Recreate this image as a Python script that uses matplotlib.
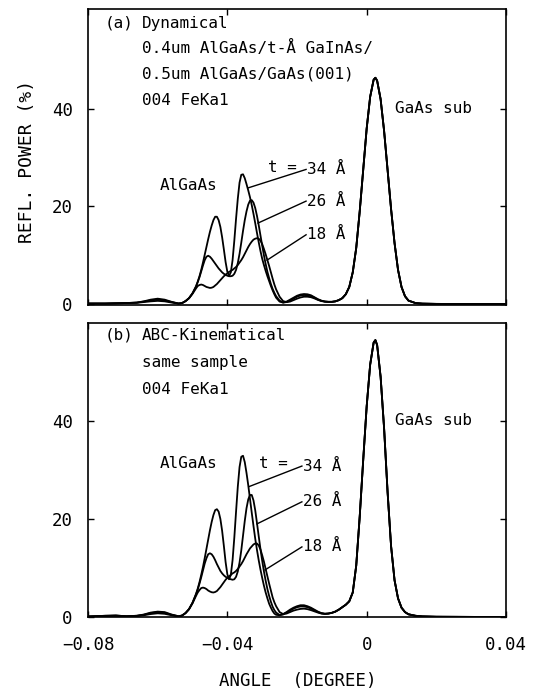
import numpy as np
import matplotlib
matplotlib.use('Agg')
import matplotlib.pyplot as plt

# sample angles (degree); finer steps where the AlGaAs fringes are
angle_tail = [-0.080, -0.075, -0.072, -0.069, -0.066, -0.064, -0.062, -0.060, -0.058, -0.056, -0.054]
angle_layer = [-0.053, -0.052, -0.051, -0.050, -0.049,
               -0.0485, -0.048, -0.0475, -0.047, -0.0465, -0.046, -0.0455, -0.045, -0.0445, -0.044,
               -0.0435, -0.043, -0.0425, -0.042, -0.0415, -0.041, -0.0405, -0.040, -0.0395, -0.039,
               -0.0385, -0.038, -0.0375, -0.037, -0.0365, -0.036, -0.0355, -0.035, -0.0345, -0.034,
               -0.0335, -0.033, -0.0325, -0.032, -0.0315, -0.031, -0.0305, -0.030, -0.0295, -0.029,
               -0.0285, -0.028, -0.0275, -0.027, -0.0265,
               -0.026, -0.025, -0.024, -0.023, -0.022, -0.021, -0.020, -0.019, -0.018, -0.017,
               -0.016, -0.015, -0.014, -0.013]
angle_sub = [-0.012, -0.011, -0.010, -0.009, -0.008, -0.007, -0.006, -0.005, -0.004, -0.003,
             -0.002, -0.001, 0.000, 0.001, 0.002, 0.0025, 0.003, 0.004, 0.005, 0.006,
             0.007, 0.008, 0.009, 0.010, 0.011, 0.012, 0.014, 0.016, 0.020, 0.030, 0.040]

# (a) dynamical, reflected power (%)
dyn_tail_34 = [0.1, 0.1, 0.15, 0.2, 0.3, 0.55, 0.9, 1.1, 0.9, 0.45, 0.1]
dyn_tail_26 = [0.1, 0.1, 0.15, 0.2, 0.3, 0.5, 0.75, 0.9, 0.75, 0.4, 0.1]
dyn_tail_18 = [0.1, 0.1, 0.15, 0.2, 0.25, 0.4, 0.55, 0.65, 0.55, 0.3, 0.1]

dyn_layer_34 = [0.2, 0.6, 1.2, 2.2, 3.6,
                4.6, 5.7, 7.0, 8.5, 10.1, 11.7, 13.3, 14.8, 16.1, 17.2,
                17.9, 17.9, 17.2, 15.8, 13.7, 11.2, 8.6, 6.6, 5.8, 6.5,
                9.0, 13.0, 17.5, 21.6, 24.9, 26.5, 26.6, 25.8, 24.6, 23.3,
                21.9, 20.3, 18.5, 16.6, 14.6, 12.7, 10.9, 9.3, 8.0, 6.8,
                5.7, 4.7, 3.7, 2.8, 2.0,
                1.3, 0.5, 0.3, 0.5, 0.9, 1.3, 1.7, 1.95, 2.05, 2.0,
                1.8, 1.4, 1.0, 0.7]
dyn_layer_26 = [0.2, 0.6, 1.2, 2.2, 3.6,
                4.5, 5.5, 6.7, 7.9, 9.0, 9.7, 9.9, 9.7, 9.3, 8.8,
                8.3, 7.8, 7.3, 6.9, 6.5, 6.2, 6.0, 5.8, 5.7, 5.7,
                5.8, 6.2, 7.0, 8.4, 10.3, 12.6, 15.0, 17.2, 19.0, 20.4,
                21.2, 21.3, 20.8, 19.7, 18.1, 16.2, 14.1, 12.0, 10.0, 8.2,
                6.6, 5.3, 4.1, 3.1, 2.3,
                1.6, 0.7, 0.3, 0.4, 0.7, 1.1, 1.5, 1.75, 1.85, 1.8,
                1.6, 1.3, 0.9, 0.65]
dyn_layer_18 = [0.2, 0.6, 1.2, 2.1, 3.2,
                3.7, 3.9, 4.0, 3.9, 3.7, 3.5, 3.4, 3.3, 3.35, 3.5,
                3.8, 4.1, 4.5, 4.9, 5.3, 5.7, 6.0, 6.3, 6.6, 6.8,
                7.0, 7.3, 7.6, 8.0, 8.5, 9.0, 9.6, 10.3, 11.0, 11.7,
                12.3, 12.8, 13.2, 13.4, 13.5, 13.4, 13.0, 12.3, 11.3, 10.2,
                9.0, 7.8, 6.5, 5.2, 4.0,
                3.0, 1.5, 0.6, 0.4, 0.5, 0.8, 1.1, 1.35, 1.5, 1.5,
                1.4, 1.15, 0.85, 0.6]
dyn_sub = [0.5, 0.45, 0.45, 0.55, 0.8, 1.2, 2.0, 3.5, 6.5, 11.5,
           19.0, 27.5, 36.0, 42.5, 46.0, 46.4, 45.8, 42.0, 35.5, 27.5,
           19.5, 12.5, 7.0, 3.5, 1.6, 0.7, 0.2, 0.08, 0.03, 0.0, 0.0]

# (b) ABC-kinematical
kin_tail_34 = [0.1, 0.25, 0.3, 0.15, 0.25, 0.5, 0.9, 1.1, 1.0, 0.5, 0.15]
kin_tail_26 = [0.1, 0.25, 0.3, 0.15, 0.25, 0.45, 0.8, 1.0, 0.85, 0.45, 0.15]
kin_tail_18 = [0.1, 0.2, 0.25, 0.15, 0.2, 0.35, 0.6, 0.75, 0.65, 0.35, 0.1]

kin_layer_34 = [0.3, 0.8, 1.6, 2.9, 4.7,
                5.8, 7.1, 8.6, 10.2, 12.0, 13.9, 15.8, 17.7, 19.4, 20.8,
                21.8, 22.0, 21.5, 20.0, 17.6, 14.5, 11.2, 8.7, 7.7, 8.6,
                11.6, 16.2, 21.5, 26.6, 30.6, 32.7, 32.9, 31.6, 29.4, 26.9,
                24.1, 21.3, 18.6, 16.0, 13.7, 11.6, 9.7, 8.0, 6.4, 5.0,
                3.8, 2.7, 1.9, 1.2, 0.7,
                0.45, 0.35, 0.6, 1.0, 1.5, 1.9, 2.2, 2.4, 2.4, 2.2,
                1.9, 1.5, 1.1, 0.8]
kin_layer_26 = [0.3, 0.8, 1.6, 2.9, 4.6,
                5.6, 6.8, 8.1, 9.5, 10.9, 12.0, 12.8, 13.0, 12.8, 12.3,
                11.6, 10.8, 10.1, 9.4, 8.9, 8.5, 8.2, 8.0, 7.8, 7.7,
                7.6, 7.7, 8.2, 9.3, 11.1, 13.6, 16.6, 19.6, 22.2, 24.0,
                24.9, 24.9, 23.8, 21.8, 19.2, 16.5, 13.9, 11.5, 9.3, 7.4,
                5.7, 4.3, 3.1, 2.1, 1.4,
                0.9, 0.4, 0.5, 0.9, 1.3, 1.7, 2.0, 2.15, 2.15, 2.0,
                1.7, 1.35, 1.0, 0.75]
kin_layer_18 = [0.3, 0.8, 1.6, 2.8, 4.3,
                5.0, 5.5, 5.9, 6.0, 5.9, 5.7, 5.4, 5.2, 5.05, 5.0,
                5.1, 5.3, 5.7, 6.1, 6.6, 7.1, 7.6, 8.0, 8.3, 8.6,
                8.9, 9.1, 9.4, 9.8, 10.3, 10.8, 11.4, 12.1, 12.8, 13.4,
                14.0, 14.4, 14.8, 15.0, 15.0, 14.6, 13.8, 12.6, 11.3, 9.8,
                8.3, 6.8, 5.4, 4.0, 3.0,
                2.2, 1.0, 0.6, 0.7, 1.0, 1.3, 1.5, 1.65, 1.7, 1.6,
                1.4, 1.15, 0.9, 0.7]
kin_sub = [0.65, 0.7, 0.85, 1.1, 1.5, 2.0, 2.5, 3.2, 5.0, 10.5,
           20.5, 32.0, 43.0, 51.5, 56.0, 56.5, 55.5, 49.0, 38.5, 25.5,
           14.5, 7.5, 3.8, 1.9, 1.0, 0.55, 0.25, 0.12, 0.05, 0.02, 0.0]

MONO = 'DejaVu Sans Mono'


def join(tail, layer, sub):
    x = np.concatenate([angle_tail, angle_layer, angle_sub])
    y = np.concatenate([tail, layer, sub])
    return x, y


def setup_axes(ax, ylim):
    ax.set_xlim(-0.08, 0.04)
    ax.set_ylim(*ylim)
    ax.set_yticks([0, 20, 40])
    ax.set_yticklabels(['0', '20', '40'], fontfamily=MONO, fontsize=12.5)
    ax.set_xticks([-0.08, -0.04, 0, 0.04])
    ax.tick_params(direction='in', top=True, right=True, length=4, width=1, pad=11)
    for s in ax.spines.values():
        s.set_linewidth(1.2)


def label_curves(ax, spots):
    # spots: (curve x, curve y, text x, text y, label)
    for cx, cy, tx, ty, lab in spots:
        ax.plot([cx, tx], [cy, ty], color='black', lw=1.0)
        ax.text(tx + 0.0004, ty, lab, fontfamily=MONO, fontsize=11.5, va='center', ha='left')


fig = plt.figure(figsize=(5.37, 6.91), dpi=100)
ax1 = fig.add_axes([0.1639, 0.5586, 0.7784, 0.4284])
ax2 = fig.add_axes([0.1639, 0.1071, 0.7784, 0.4255])

for ax, tails, layers, sub in [
        (ax1, [dyn_tail_34, dyn_tail_26, dyn_tail_18], [dyn_layer_34, dyn_layer_26, dyn_layer_18], dyn_sub),
        (ax2, [kin_tail_34, kin_tail_26, kin_tail_18], [kin_layer_34, kin_layer_26, kin_layer_18], kin_sub)]:
    for tail, layer in zip(tails, layers):
        x, y = join(tail, layer, sub)
        ax.plot(x, y, color='black', lw=1.3, solid_joinstyle='round')

setup_axes(ax1, (-0.2, 60.5))
ax1.set_xticklabels([])
setup_axes(ax2, (0, 60))
ax2.set_xticklabels(['\u22120.08', '\u22120.04', '0', '0.04'], fontfamily=MONO, fontsize=12.5)
ax2.tick_params(axis='x', pad=14)

fs = 11.5
ax1.text(-0.0751, 57.6, '(a)', fontfamily=MONO, fontsize=fs, va='center')
ax1.text(-0.0645, 57.6, 'Dynamical', fontfamily=MONO, fontsize=fs, va='center')
ax1.text(-0.0645, 52.4, '0.4um AlGaAs/t-Å GaInAs/', fontfamily=MONO, fontsize=fs, va='center')
ax1.text(-0.0645, 47.2, '0.5um AlGaAs/GaAs(001)', fontfamily=MONO, fontsize=fs, va='center')
ax1.text(-0.0645, 41.8, '004 FeKa1', fontfamily=MONO, fontsize=fs, va='center')
ax1.text(0.0081, 40.0, 'GaAs sub', fontfamily=MONO, fontsize=fs, va='center')
ax1.text(-0.0593, 24.4, 'AlGaAs', fontfamily=MONO, fontsize=fs, va='center')
ax1.text(-0.0283, 28.0, 't =', fontfamily=MONO, fontsize=fs, va='center')
label_curves(ax1, [(-0.0341, 23.8, -0.0174, 27.6, '34 Å'),
                   (-0.0312, 16.6, -0.0174, 21.1, '26 Å'),
                   (-0.0286, 9.0, -0.0174, 14.2, '18 Å')])

ax2.text(-0.0751, 57.5, '(b)', fontfamily=MONO, fontsize=fs, va='center')
ax2.text(-0.0645, 57.5, 'ABC-Kinematical', fontfamily=MONO, fontsize=fs, va='center')
ax2.text(-0.0645, 52.0, 'same sample', fontfamily=MONO, fontsize=fs, va='center')
ax2.text(-0.0645, 46.5, '004 FeKa1', fontfamily=MONO, fontsize=fs, va='center')
ax2.text(0.0081, 40.0, 'GaAs sub', fontfamily=MONO, fontsize=fs, va='center')
ax2.text(-0.0593, 31.4, 'AlGaAs', fontfamily=MONO, fontsize=fs, va='center')
ax2.text(-0.0310, 31.4, 't =', fontfamily=MONO, fontsize=fs, va='center')
label_curves(ax2, [(-0.0338, 26.6, -0.0186, 30.8, '34 Å'),
                   (-0.0315, 19.0, -0.0186, 23.5, '26 Å'),
                   (-0.0292, 9.6, -0.0186, 14.3, '18 Å')])

fig.text(0.050, 0.766, 'REFL. POWER (%)', rotation=90, ha='center', va='center',
         fontfamily=MONO, fontsize=13)
fig.text(0.555, 0.014, 'ANGLE  (DEGREE)', ha='center', va='center',
         fontfamily=MONO, fontsize=12.5)

fig.savefig('out.png', dpi=100)
